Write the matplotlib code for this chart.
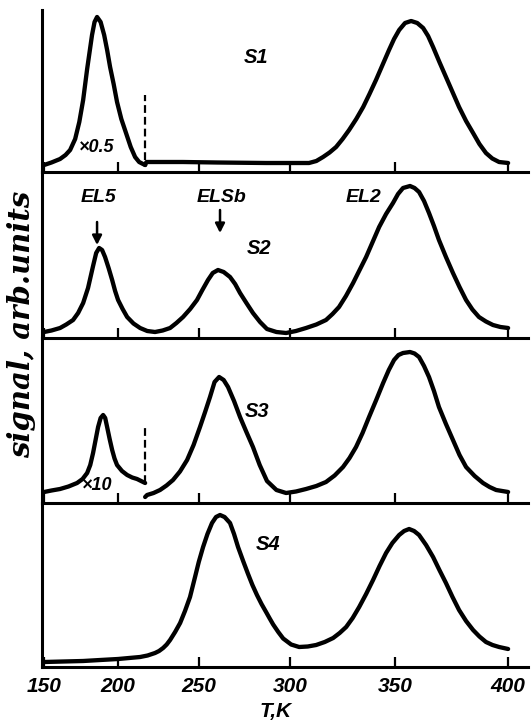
import numpy as np
import matplotlib
matplotlib.use("Agg")
import matplotlib.pyplot as plt

# ====================================================================
# DATA (T in K, signal in arb. units per panel)
# ====================================================================
T_TICKS = [150, 200, 250, 300, 350, 400]
T_LIM = (148.6, 408.8)

# the printed T axis is hand drawn and not evenly spaced:
# calibration knots (temperature -> drawn column) used by the x scale
AXIS_T = [100, 150, 200, 250, 300, 350, 400, 450]
AXIS_COL = [-30, 44, 118, 199, 290, 395, 508, 621]

# S1: EL5 (x0.5) up to the cut, then the rest of the scan
s1_low_t = [150, 155.0, 160.8, 164.5, 167.6, 171.0, 173.8, 176.4, 179.1, 182.4, 184.1,
            185.8, 188.2, 190.6, 192.6, 194.6, 197.0, 199.3, 202.0, 204.9, 207.8,
            210.5, 213.0, 215.4, 216.7]
s1_low_y = [7, 9.5, 13, 17, 22, 33, 50, 72, 103, 137, 150, 155, 150, 137, 122, 105, 88,
            70, 53, 39, 25, 15, 10, 8, 7]
s1_high_t = [216.7, 217.5, 240, 260, 286.8, 309.0, 312.5, 315.7, 318.8, 321.9, 325.0,
             328.1, 331.5, 334.8, 337.8, 340.9, 344.0, 347.1, 349.5, 351.8, 354.4, 357.1,
             359.8, 362.4, 364.6, 366.8, 369.6, 372.5, 375.4, 378.3, 381.4, 384.5,
             387.3, 390.2, 393.0, 396.0, 400]
s1_high_y = [7, 10, 10, 9.5, 9, 9, 11, 15, 19.5, 25, 33, 42, 53, 65, 78, 92, 107, 122,
             133, 142, 149, 151, 149, 144, 136, 125, 110, 95, 80, 65, 51, 39, 28, 19,
             13.5, 10, 9]
s1_cut = (216.7, 12, 77)

# S2
s2_t = [150, 155.0, 160.8, 165.0, 169.6, 173.0, 176.4, 179.7, 183.1, 185.2, 187.2,
        189.2, 191.2, 193.6, 196.0, 198.0, 200.0, 202.8, 205.6, 209.5, 213.6, 218.0,
        222.8, 227.5, 232.1, 236.0, 240.1, 244.5, 248.7, 251.8, 254.9, 257.5, 260.4,
        263.5, 267.0, 269.8, 272.5, 276.0, 279.6, 283.5, 287.3, 292.5, 297.8, 302.8,
        307.6, 312.5, 317.1, 320.2, 323.3, 326.6, 330.0, 333.1, 336.2, 339.3, 342.4,
        345.7, 349.0, 351.3, 353.5, 356.6, 358.6, 360.6, 362.8, 365.0, 367.2, 369.4,
        372.5, 375.6, 378.5, 381.4, 384.2, 387.1, 390.2, 393.3, 396.6, 400]
s2_y = [6, 7.5, 10, 13.5, 18, 25, 35, 50, 72, 85, 90, 88, 81, 70, 58, 47, 38, 29, 21,
        14.5, 10, 7, 6, 7.5, 10, 15, 21, 29, 38, 48, 58, 65, 68, 66, 61, 54, 45, 35,
        25, 16, 9, 6, 5, 7, 10, 13.5, 18, 24, 31, 42, 55, 68, 81, 96, 111, 124, 135,
        144, 150, 152, 150, 146, 137, 125, 112, 98, 81, 65, 51, 38, 28.5, 21, 16.5,
        13, 11, 10]

# S3: EL5 (x10) up to the cut, then the rest of the scan
s3_low_t = [150, 155.0, 160.8, 166.5, 172.3, 176.0, 179.1, 181.2, 183.1, 184.8, 186.5,
            188.2, 189.9, 191.3, 192.6, 194.3, 196.0, 197.6, 199.3, 202.4, 205.6,
            208.7, 211.7, 214.2, 216.7]
s3_low_y = [11, 12.5, 14, 16.5, 20, 24, 30, 38, 50, 63, 76, 85, 88, 85, 76, 64, 53,
            44.5, 38, 32, 28, 25.5, 24, 22, 20]
s3_high_t = [216.7, 217.9, 221.9, 225.9, 229.9, 233.9, 238.2, 242.6, 246.6, 250.5,
             253.3, 256.0, 258.5, 261.0, 263.5, 265.9, 269.2, 272.5, 276.0, 279.6,
             283.3, 287.3, 292.5, 297.8, 302.8, 307.6, 312.5, 317.1, 321.2, 325.2,
             328.3, 331.4, 334.5, 337.6, 341.0, 344.3, 347.0, 349.5, 351.5, 353.5,
             356.6, 358.6, 360.6, 362.8, 365.0, 367.2, 369.4, 372.5, 375.6, 378.5,
             381.4, 385.2, 388.9, 391.8, 394.7, 400]
s3_high_y = [6, 8, 10, 13, 17.5, 23, 31.5, 43, 58, 76, 91, 106, 121, 126, 123, 116, 102,
             86, 71, 56, 38, 22, 13, 10, 11.5, 14, 17, 21, 27.5, 36, 45, 56, 70, 86,
             103, 120, 133, 143, 148, 150, 151, 149.5, 146, 137, 126, 112, 96, 79, 63,
             48, 36, 27, 20, 16, 13, 11]
s3_cut = (216.7, 20, 75)

# S4
s4_t = [150, 163.0, 176.4, 188.0, 200, 206.8, 213.6, 218.2, 222.8, 225.3, 227.8, 230.0,
        232.1, 235.2, 238.3, 241.3, 244.4, 247.5, 249.8, 252.2, 254.6, 257.1, 259.3,
        261.5, 264.0, 267.0, 269.2, 271.4, 274.2, 276.9, 279.3, 281.8, 284.3, 286.8,
        288.8, 290.7, 293.5, 296.2, 300.5, 304.3, 308.4, 312.4, 316.5, 320.5, 323.6,
        326.7, 329.8, 332.9, 336.2, 339.5, 342.6, 345.7, 348.7, 351.8, 354.0, 356.2,
        358.4, 360.6, 363.7, 366.8, 369.6, 372.5, 375.4, 378.3, 381.4, 384.5, 387.3,
        390.2, 393.1, 396.0, 400]
s4_y = [5, 5.5, 6, 7, 8, 9, 10, 11.5, 14, 16, 19, 22.5, 27, 35, 44, 56, 70, 90, 105,
        120, 133, 144, 150, 152, 150, 144, 133, 120, 106, 93, 82, 72, 63, 55, 48.5, 42.5,
        35, 28.5, 22.5, 20, 20.5, 22, 25, 29, 34, 40, 49, 60, 73, 87, 101, 114, 124, 132,
        136, 138, 136, 132, 122, 110, 97, 84, 70, 57, 46, 37, 30.5, 25, 22, 20, 18]

# peak markers in S2 (temperature, arrow tip, arrow tail)
el5_arrow = (185.8, 93, 116)
elsb_arrow = (261.5, 105, 128)

# panel heights in signal units
panel_ylim = [162, 166, 165, 164]
# panel edges in the 532x724 frame (top, bottom rows)
panel_rows = [(10, 172), (172, 338), (338, 503), (503, 667)]

# ====================================================================
# FIGURE
# ====================================================================
W, H = 532, 724
fig = plt.figure(figsize=(W / 100, H / 100), dpi=100)

def fwd(t):
    return np.interp(t, AXIS_T, AXIS_COL)

def inv(c):
    return np.interp(c, AXIS_COL, AXIS_T)

label_font = dict(family="Liberation Sans", weight="bold", style="italic", color="k")
curve = dict(color="k", lw=3.1, solid_capstyle="round", solid_joinstyle="round")
cut = dict(color="k", lw=1.6, linestyles=(0, (3.5, 1.8)))
arrow = dict(arrowstyle="-|>,head_length=0.55,head_width=0.28", color="k", lw=1.8,
             shrinkA=0, shrinkB=0)

axes = []
for i, (top, bot) in enumerate(panel_rows):
    ax = fig.add_axes([42 / W, 1 - bot / H, (528 - 42) / W, (bot - top) / H])
    ax.set_xscale("function", functions=(fwd, inv))
    ax.set_xlim(*T_LIM)
    ax.set_ylim(0, panel_ylim[i])
    for side in ("top", "right"):
        ax.spines[side].set_visible(False)
    ax.spines["left"].set_linewidth(2.2)
    ax.spines["bottom"].set_linewidth(2.2)
    ax.set_yticks([])
    ax.set_xticks(T_TICKS)
    ax.tick_params(axis="x", direction="in", length=7, width=1.6,
                   labelbottom=(i == 3), pad=7)
    ax.patch.set_alpha(0)
    axes.append(ax)

ax1, ax2, ax3, ax4 = axes

# S1
ax1.plot(s1_low_t, s1_low_y, **curve)
ax1.plot(s1_high_t, s1_high_y, **curve)
ax1.vlines(s1_cut[0], s1_cut[1], s1_cut[2], **cut)
ax1.text(281.3, 114, "S1", fontsize=14.5, ha="center", va="center", **label_font)
ax1.text(185.8, 24, "×0.5", fontsize=13, ha="center", va="center", **label_font)

# S2
ax2.plot(s2_t, s2_y, **curve)
ax2.text(282.9, 89, "S2", fontsize=14.5, ha="center", va="center", **label_font)
ax2.text(186.5, 141, "EL5", fontsize=14, ha="center", va="center", **label_font)
ax2.text(262.6, 141, "ELSb", fontsize=14, ha="center", va="center", **label_font)
ax2.text(335.2, 140, "EL2", fontsize=14, ha="center", va="center", **label_font)
for t, tip, tail in (el5_arrow, elsb_arrow):
    ax2.annotate("", xy=(t, tip), xytext=(t, tail), arrowprops=arrow)

# S3
ax3.plot(s3_low_t, s3_low_y, **curve)
ax3.plot(s3_high_t, s3_high_y, **curve)
ax3.vlines(s3_cut[0], s3_cut[1], s3_cut[2], **cut)
ax3.text(281.8, 92, "S3", fontsize=14.5, ha="center", va="center", **label_font)
ax3.text(185.8, 18, "×10", fontsize=13, ha="center", va="center", **label_font)

# S4
ax4.plot(s4_t, s4_y, **curve)
ax4.text(288.0, 122, "S4", fontsize=14.5, ha="center", va="center", **label_font)
for lab in ax4.get_xticklabels():
    lab.set_fontfamily("Liberation Sans")
    lab.set_fontweight("bold")
    lab.set_fontstyle("italic")
    lab.set_fontsize(15)

fig.text(276 / W, 1 - 712 / H, "T,K", fontsize=15, ha="center", va="center", **label_font)
fig.text(22 / W, 1 - 324 / H, "signal, arb.units", rotation=90, fontsize=21,
         ha="center", va="center", family="DejaVu Serif", weight="bold", style="italic")

fig.savefig("out.png", dpi=100)
plt.close(fig)
